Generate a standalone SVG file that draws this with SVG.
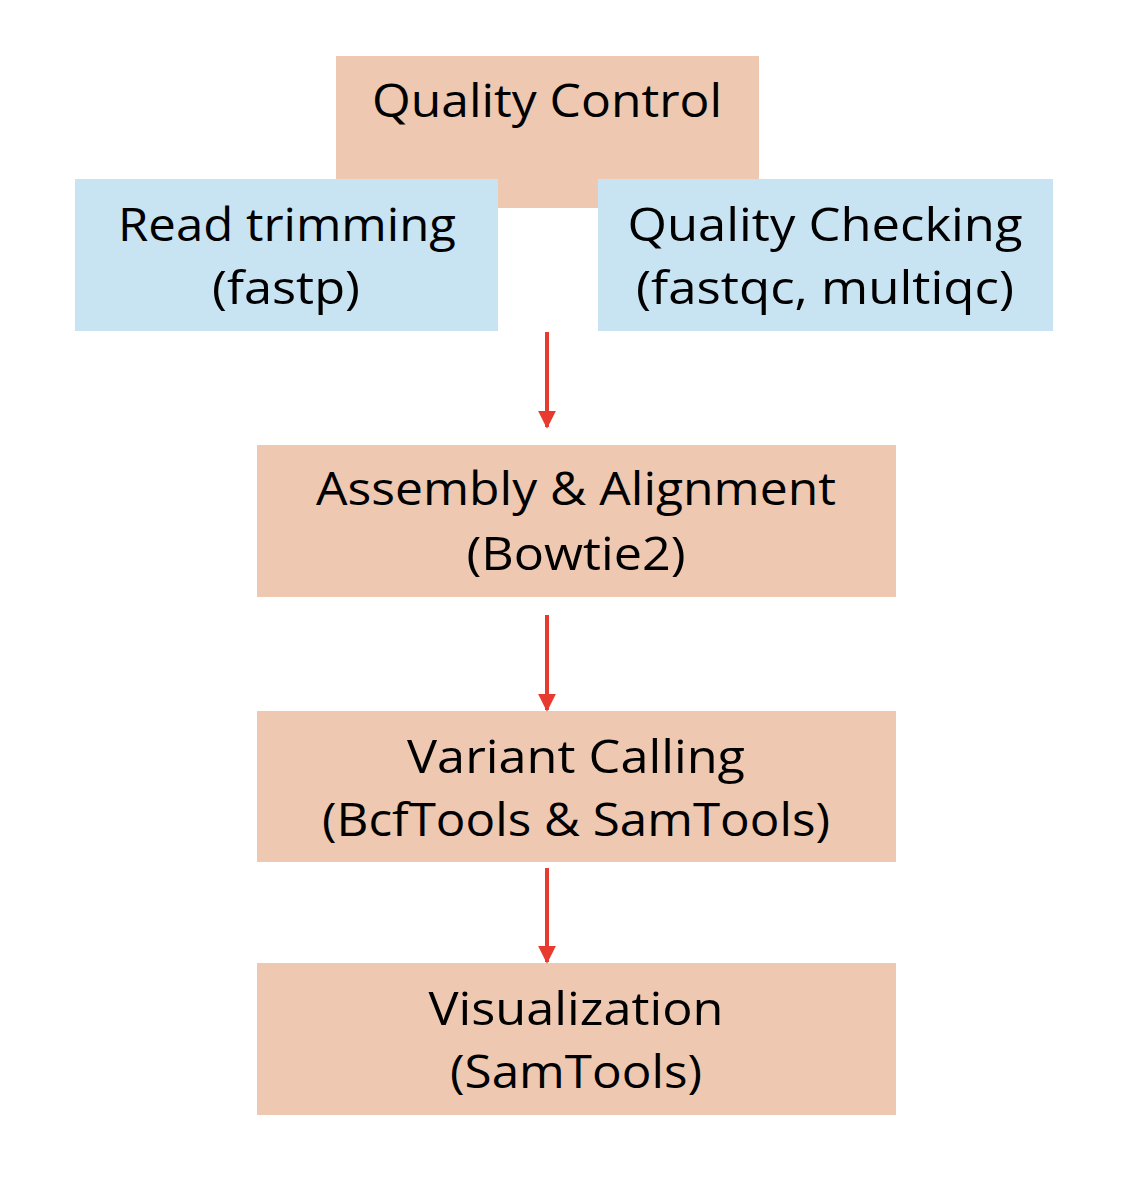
<svg xmlns="http://www.w3.org/2000/svg" width="1140" height="1192" viewBox="0 0 1140 1192">
<defs>
<style>
.peach{fill:#EEC8B0}
.blue{fill:#C8E3F2}
.t{font-family:"Open Sans","Liberation Sans",sans-serif;font-size:46px;fill:#000;text-anchor:middle}
.arr{stroke:#E63B2E;stroke-width:4;fill:none}
</style>
<marker id="ah" viewBox="0 0 10 10" refX="9" refY="5" markerWidth="4.5" markerHeight="4.5" markerUnits="strokeWidth" orient="auto">
<path d="M0,0 L10,5 L0,10 z" fill="#E63B2E"/>
</marker>
</defs>
<rect width="1140" height="1192" fill="#fff"/>
<g id="quality-control">
<rect class="peach" x="336" y="56" width="423" height="152"/>
<text class="t" x="547" y="117" textLength="350" lengthAdjust="spacingAndGlyphs">Quality Control</text>
</g>
<g id="read-trimming">
<rect class="blue" x="75" y="179" width="423" height="152"/>
<text class="t" x="287" y="241" textLength="338" lengthAdjust="spacingAndGlyphs">Read trimming</text>
<text class="t" x="286" y="304" textLength="148" lengthAdjust="spacingAndGlyphs">(fastp)</text>
</g>
<g id="quality-checking">
<rect class="blue" x="598" y="179" width="455" height="152"/>
<text class="t" x="825" y="241" textLength="395" lengthAdjust="spacingAndGlyphs">Quality Checking</text>
<text class="t" x="825" y="304" textLength="378" lengthAdjust="spacingAndGlyphs">(fastqc, multiqc)</text>
</g>
<g id="assembly">
<rect class="peach" x="257" y="445" width="639" height="152"/>
<text class="t" x="576" y="505" textLength="520" lengthAdjust="spacingAndGlyphs">Assembly &amp; Alignment</text>
<text class="t" x="576" y="570" textLength="219" lengthAdjust="spacingAndGlyphs">(Bowtie2)</text>
</g>
<g id="variant-calling">
<rect class="peach" x="257" y="711" width="639" height="151"/>
<text class="t" x="576" y="773" textLength="338" lengthAdjust="spacingAndGlyphs">Variant Calling</text>
<text class="t" x="576" y="836" textLength="508" lengthAdjust="spacingAndGlyphs">(BcfTools &amp; SamTools)</text>
</g>
<g id="visualization">
<rect class="peach" x="257" y="963" width="639" height="152"/>
<text class="t" x="576" y="1025" textLength="295" lengthAdjust="spacingAndGlyphs">Visualization</text>
<text class="t" x="576" y="1088" textLength="252" lengthAdjust="spacingAndGlyphs">(SamTools)</text>
</g>
<g id="connectors">
<line class="arr" x1="547" y1="332" x2="547" y2="427" marker-end="url(#ah)"/>
<line class="arr" x1="547" y1="615" x2="547" y2="710" marker-end="url(#ah)"/>
<line class="arr" x1="547" y1="868" x2="547" y2="962" marker-end="url(#ah)"/>
</g>
</svg>
